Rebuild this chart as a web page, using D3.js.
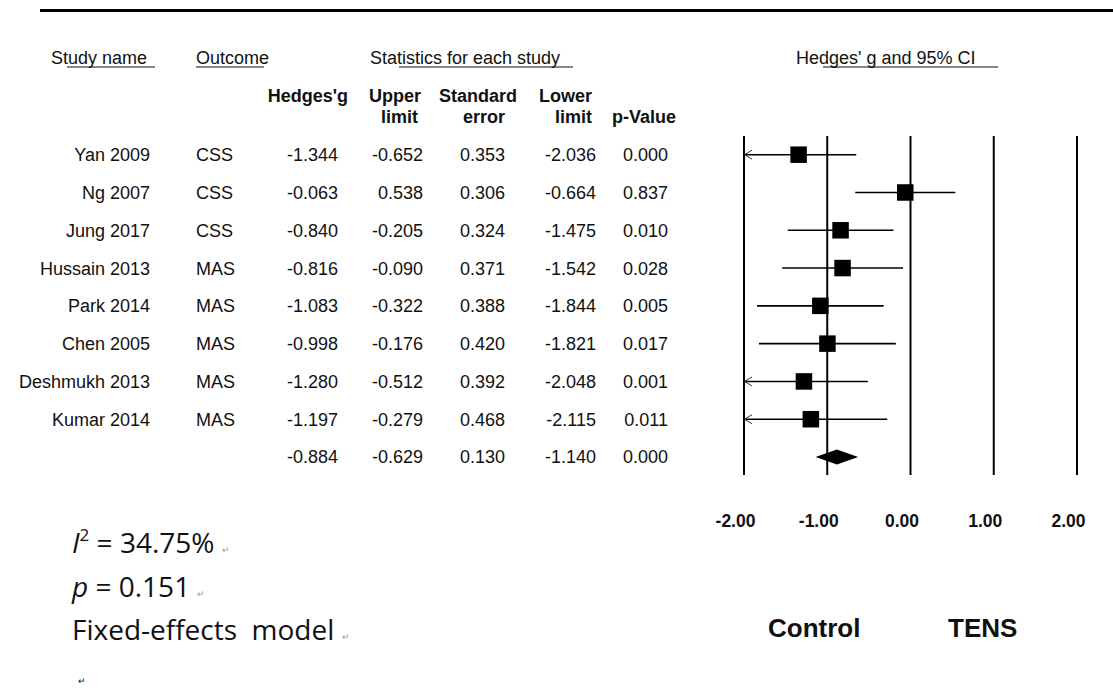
<!DOCTYPE html>
<html>
<head>
<meta charset="utf-8">
<script src="https://cdn.jsdelivr.net/npm/d3@7/dist/d3.min.js"></script>
<style>
  html, body { margin: 0; padding: 0; background: #fff; }
  svg { display: block; }
  text { font-family: "Liberation Sans", Arial, sans-serif; fill: #111; }
  text.note { font-family: "Open Sans", "Noto Sans", sans-serif; }
</style>
</head>
<body>
<svg id="chart" width="1113" height="696"></svg>
<script>
// Study-level results (Hedges' g with 95% CI)
const studies = ["Yan 2009", "Ng 2007", "Jung 2017", "Hussain 2013", "Park 2014", "Chen 2005", "Deshmukh 2013", "Kumar 2014"];
const outcomes = ["CSS", "CSS", "CSS", "MAS", "MAS", "MAS", "MAS", "MAS"];
const hedgesG = [-1.344, -0.063, -0.840, -0.816, -1.083, -0.998, -1.280, -1.197];
const upperLimit = [-0.652, 0.538, -0.205, -0.090, -0.322, -0.176, -0.512, -0.279];
const standardError = [0.353, 0.306, 0.324, 0.371, 0.388, 0.420, 0.392, 0.468];
const lowerLimit = [-2.036, -0.664, -1.475, -1.542, -1.844, -1.821, -2.048, -2.115];
const pValues = [0.000, 0.837, 0.010, 0.028, 0.005, 0.017, 0.001, 0.011];

// Pooled (fixed-effects) estimate
const pooledG = -0.884;
const pooledUpper = -0.629;
const pooledSE = 0.130;
const pooledLower = -1.140;
const pooledP = 0.000;

// Axis of the forest plot
const axisTicks = [-2, -1, 0, 1, 2];
const sideLabels = ["Control", "TENS"];

const locale = d3.formatLocale({ decimal: ".", thousands: ",", grouping: [3], currency: ["", ""], minus: "-" });
const f3 = locale.format(".3f");
const f2 = locale.format(".2f");

const svg = d3.select("#chart");

// Scales
const x = d3.scaleLinear().domain([-2, 2]).range([744, 1077]);
const nRows = studies.length + 1;
const y = d3.scalePoint().domain(d3.range(nRows)).range([154.7, 457]);

// Top rule
svg.append("line")
  .attr("x1", 40).attr("x2", 1113).attr("y1", 10.5).attr("y2", 10.5)
  .attr("stroke", "#000").attr("stroke-width", 3);

// Section titles with their underlines
const titles = [
  { t: "Study name", x: 51, u: [67, 155] },
  { t: "Outcome", x: 196, u: [196, 264] },
  { t: "Statistics for each study", x: 370, u: [399, 573] },
  { t: "Hedges' g and 95% CI", x: 796, u: [823, 998] }
];
titles.forEach(d => {
  svg.append("text").attr("x", d.x).attr("y", 64)
    .attr("font-size", 18).text(d.t);
  svg.append("line").attr("x1", d.u[0]).attr("x2", d.u[1])
    .attr("y1", 67).attr("y2", 67).attr("stroke", "#111").attr("stroke-width", 1.2);
});

// Column headers (bold, two lines)
const headers = [
  { l1: "Hedges'g", x1: 348, l2: "", x2: 348 },
  { l1: "Upper", x1: 421, l2: "limit", x2: 418 },
  { l1: "Standard", x1: 517, l2: "error", x2: 505 },
  { l1: "Lower", x1: 592, l2: "limit", x2: 592 },
  { l1: "", x1: 676, l2: "p-Value", x2: 676 }
];
headers.forEach(h => {
  svg.append("text").attr("x", h.x1).attr("y", 102).attr("text-anchor", "end")
    .attr("font-size", 18).attr("font-weight", "bold").text(h.l1);
  svg.append("text").attr("x", h.x2).attr("y", 123).attr("text-anchor", "end")
    .attr("font-size", 18).attr("font-weight", "bold").text(h.l2);
});

// Table rows
const valueCols = [338, 423, 505, 596, 668];
const rows = studies.map((s, i) => ({
  name: s, outcome: outcomes[i],
  vals: [hedgesG[i], upperLimit[i], standardError[i], lowerLimit[i], pValues[i]]
}));
rows.push({ name: "", outcome: "", vals: [pooledG, pooledUpper, pooledSE, pooledLower, pooledP] });

const rowG = svg.selectAll("g.row").data(rows).join("g")
  .attr("class", "row")
  .attr("transform", (d, i) => `translate(0,${y(i)})`);

rowG.append("text").attr("x", 150).attr("dy", "0.36em").attr("text-anchor", "end")
  .attr("font-size", 18).text(d => d.name);
rowG.append("text").attr("x", 196).attr("dy", "0.36em")
  .attr("font-size", 18).text(d => d.outcome);
rowG.selectAll("text.val").data(d => d.vals).join("text")
  .attr("class", "val")
  .attr("x", (v, j) => valueCols[j]).attr("dy", "0.36em").attr("text-anchor", "end")
  .attr("font-size", 18).text(v => f3(v));

// Forest plot reference lines
const plotTop = 136, plotBottom = 475;
svg.append("g").selectAll("line").data(axisTicks).join("line")
  .attr("x1", d => x(d)).attr("x2", d => x(d))
  .attr("y1", plotTop).attr("y2", plotBottom)
  .attr("stroke", "#000").attr("stroke-width", 2);

// Confidence intervals, clipped at the axis limit with an arrow
const [xmin] = x.domain();
const ci = svg.append("g");
studies.forEach((s, i) => {
  const yy = y(i);
  const lo = Math.max(lowerLimit[i], xmin);
  ci.append("line")
    .attr("x1", x(lo)).attr("x2", x(upperLimit[i]))
    .attr("y1", yy).attr("y2", yy)
    .attr("stroke", "#000").attr("stroke-width", 1.6);
  if (lowerLimit[i] < xmin) {
    ci.append("path")
      .attr("d", `M${x(xmin) + 8},${yy - 4.5}L${x(xmin) + 0.5},${yy}L${x(xmin) + 8},${yy + 4.5}`)
      .attr("fill", "none").attr("stroke", "#333").attr("stroke-width", 1);
  }
});

// Point estimates
const sq = 16.5;
svg.append("g").selectAll("rect").data(hedgesG).join("rect")
  .attr("x", d => x(d) - sq / 2)
  .attr("y", (d, i) => y(i) - sq / 2)
  .attr("width", sq).attr("height", sq)
  .attr("fill", "#000");

// Pooled estimate diamond
const yp = y(studies.length);
svg.append("path")
  .attr("d", `M${x(pooledLower)},${yp}L${x(pooledG)},${yp - 7.5}L${x(pooledUpper)},${yp}L${x(pooledG)},${yp + 7.5}Z`)
  .attr("fill", "#000");

// Tick labels
const axis = d3.axisBottom(x).tickValues(axisTicks).tickFormat(f2).tickSize(0);
const axG = svg.append("g").attr("transform", "translate(0,527)").call(axis);
axG.select(".domain").remove();
axG.selectAll("text")
  .attr("x", -9).attr("y", 0).attr("dy", 0)
  .attr("font-size", 17.5).attr("font-weight", "bold")
  .attr("fill", "#111");

// Favours labels
svg.append("text").attr("x", 768).attr("y", 637)
  .attr("font-size", 26).attr("font-weight", "bold").text(sideLabels[0]);
svg.append("text").attr("x", 948).attr("y", 637)
  .attr("font-size", 26).attr("font-weight", "bold").text(sideLabels[1]);

// Heterogeneity statistics
const mark = "\u21B5";
const n1 = svg.append("text").attr("class", "note").attr("x", 72).attr("y", 553)
  .attr("font-size", 28);
n1.append("tspan").attr("font-style", "italic").text("I");
n1.append("tspan").attr("font-size", 17).attr("dy", -12).text("2");
n1.append("tspan").attr("dy", 12).text(" = 34.75% ");
n1.append("tspan").attr("font-size", 9).attr("fill", "#999").text(mark);

const n2 = svg.append("text").attr("class", "note").attr("x", 72).attr("y", 597)
  .attr("font-size", 28);
n2.append("tspan").attr("font-style", "italic").text("p");
n2.append("tspan").text(" = 0.151 ");
n2.append("tspan").attr("font-size", 9).attr("fill", "#999").text(mark);

const n3 = svg.append("text").attr("class", "note").attr("x", 72).attr("y", 640)
  .attr("font-size", 28).attr("xml:space", "preserve");
n3.append("tspan").text("Fixed-effects  model ");
n3.append("tspan").attr("font-size", 9).attr("fill", "#999").text(mark);

svg.append("text").attr("class", "note").attr("x", 78).attr("y", 684)
  .attr("font-size", 9).attr("fill", "#999").text(mark);
</script>
</body>
</html>
